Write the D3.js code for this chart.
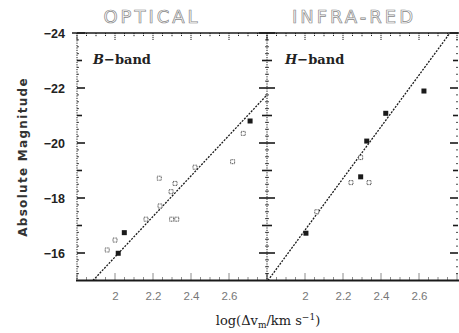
<!DOCTYPE html>
<html>
<head>
<meta charset="utf-8">
<script src="https://cdn.jsdelivr.net/npm/d3@7"></script>
<style>
  body { margin: 0; background: #fff; }
  svg { display: block; font-family: "DejaVu Sans", sans-serif; }
</style>
</head>
<body>
<svg id="chart" width="459" height="333"></svg>
<script>
'use strict';

// panel titles and band labels
let panelTitles = ['OPTICAL', 'INFRA-RED'];
let bandLetters = ['B', 'H'];

// tick labels
let xTickValues = [2, 2.2, 2.4, 2.6];
let yTickValues = [-24, -22, -20, -18, -16];

// B-band galaxies: log dv, absolute magnitude, filled?
let bandBX = [1.959, 2.0, 2.049, 2.017, 2.163, 2.233, 2.237, 2.298, 2.325, 2.295, 2.316, 2.421, 2.619, 2.675, 2.711];
let bandBY = [-16.11, -16.47, -16.74, -15.99, -17.23, -18.72, -17.71, -17.23, -17.23, -18.23, -18.53, -19.12, -19.32, -20.35, -20.8];
let bandBFilled = [0, 0, 1, 1, 0, 0, 0, 0, 0, 0, 0, 0, 0, 0, 1];

// H-band galaxies
let bandHX = [2.005, 2.062, 2.242, 2.337, 2.293, 2.293, 2.325, 2.425, 2.626];
let bandHY = [-16.72, -17.5, -18.56, -18.56, -18.77, -19.47, -20.07, -21.08, -21.89];
let bandHFilled = [1, 0, 0, 0, 1, 0, 1, 1, 1];

// fitted relations (end points)
let fitBX = [1.884, 2.8];
let fitBY = [-15, -21.75];
let fitHX = [1.805, 2.763];
let fitHY = [-15, -24];

let svg = d3.select('#chart');

let y = d3.scaleLinear().domain([-24, -15]).range([33, 280.5]);
let panels = [
  { x: d3.scaleLinear().domain([1.8, 2.8]).range([77, 267]), px: bandBX, py: bandBY, pf: bandBFilled, fx: fitBX, fy: fitBY, tx: 152 },
  { x: d3.scaleLinear().domain([1.8, 2.8]).range([267, 457]), px: bandHX, py: bandHY, pf: bandHFilled, fx: fitHX, fy: fitHY, tx: 354 },
];

let ink = '#1a1a1a';
let yTop = y(-24), yBottom = y(-15);

// frame
svg.append('line')
  .attr('x1', 72).attr('x2', 459).attr('y1', yTop).attr('y2', yTop)
  .style('stroke', ink).style('stroke-width', 1.6);
svg.append('line')
  .attr('x1', 76).attr('x2', 459).attr('y1', yBottom).attr('y2', yBottom)
  .style('stroke', ink).style('stroke-width', 2.2);
[77, 267].forEach(xx => {
  svg.append('line')
    .attr('x1', xx).attr('x2', xx).attr('y1', yTop).attr('y2', yBottom)
    .style('stroke', ink).style('stroke-width', 1)
    .style('stroke-dasharray', '1.2,1.2');
});

// vertical-axis tick marks
let yMinor = d3.range(-24, -15, 0.25);
let vTick = (xx, dirs, v) => {
  let isInt = Math.abs(v - Math.round(v)) < 1e-6;
  let even = isInt && Math.round(v) % 2 === 0;
  let len = even ? 8 : (isInt ? 5 : 2);
  dirs.forEach(d => {
    svg.append('line')
      .attr('x1', xx).attr('x2', xx + d * len)
      .attr('y1', y(v)).attr('y2', y(v))
      .style('stroke', ink).style('stroke-width', isInt ? 1.6 : 0.8);
  });
};
yMinor.forEach(v => {
  vTick(77, [1], v);
  vTick(267, [1, -1], v);
  vTick(458, [-1], v);
});

// horizontal-axis tick marks
panels.forEach(p => {
  d3.range(1.8, 2.8001, 0.05).forEach(v => {
    let k = Math.round(v * 20);
    let len = k % 4 === 0 ? 7 : (k % 2 === 0 ? 4 : 3);
    let xx = p.x(v);
    svg.append('line')
      .attr('x1', xx).attr('x2', xx).attr('y1', yBottom).attr('y2', yBottom - len)
      .style('stroke', ink).style('stroke-width', 1)
      .style('stroke-dasharray', '1,1');
    svg.append('line')
      .attr('x1', xx).attr('x2', xx).attr('y1', yTop).attr('y2', yTop + len)
      .style('stroke', ink).style('stroke-width', 1)
      .style('stroke-dasharray', '1.2,0.8');
  });
});

// y tick labels
let yAxis = svg.append('g')
  .attr('transform', 'translate(77,0)')
  .call(d3.axisLeft(y).tickValues(yTickValues).tickSize(0).tickPadding(12)
    .tickFormat(d => '\u2212' + Math.abs(d)));
yAxis.select('.domain').remove();
yAxis.selectAll('text')
  .style('font-family', '"Liberation Sans", sans-serif')
  .style('font-size', '12.5px')
  .style('font-weight', 'bold')
  .style('fill', '#222');

// x tick labels
panels.forEach(p => {
  let g = svg.append('g')
    .attr('transform', `translate(0,${yBottom})`)
    .call(d3.axisBottom(p.x).tickValues(xTickValues).tickSize(0).tickPadding(11)
      .tickFormat(d3.format('')));
  g.select('.domain').remove();
  g.selectAll('text')
    .style('font-family', '"Liberation Sans", sans-serif')
    .style('font-size', '11.5px')
    .style('fill', '#777');
});

// fit lines
panels.forEach(p => {
  let pts = p.fx.map((v, i) => [p.x(v), y(p.fy[i])]);
  svg.append('path')
    .attr('d', d3.line()(pts))
    .style('fill', 'none')
    .style('stroke', ink)
    .style('stroke-width', 1.3)
    .style('stroke-dasharray', '2,1.3');
});

// data points
panels.forEach(p => {
  svg.append('g').selectAll('rect')
    .data(p.px.map((v, i) => ({ x: v, y: p.py[i], f: p.pf[i] })))
    .enter()
    .append('rect')
    .attr('x', d => p.x(d.x) - (d.f ? 2.5 : 2))
    .attr('y', d => y(d.y) - (d.f ? 2.5 : 2))
    .attr('width', d => d.f ? 5 : 4)
    .attr('height', d => d.f ? 5 : 4)
    .style('fill', d => d.f ? ink : '#fff')
    .style('stroke', d => d.f ? 'none' : '#555')
    .style('stroke-width', 1)
    .style('stroke-dasharray', d => d.f ? 'none' : '1,0.6');
});

// band labels
panels.forEach((p, i) => {
  let t = svg.append('text')
    .attr('x', p.x(1.8) + (i === 0 ? 16 : 18))
    .attr('y', 64)
    .style('font-family', '"DejaVu Serif", serif')
    .style('font-size', '13px')
    .style('font-weight', 'bold')
    .style('fill', '#222');
  t.append('tspan').style('font-style', 'italic').text(bandLetters[i]);
  t.append('tspan').text('\u2212band');
});

// panel titles, outlined hand lettering
panels.forEach((p, i) => {
  svg.append('text')
    .attr('x', p.tx)
    .attr('y', 23)
    .style('text-anchor', 'middle')
    .style('font-family', '"DejaVu Sans", sans-serif')
    .style('font-size', '18px')
    .style('letter-spacing', '3px')
    .style('fill', 'none')
    .style('stroke', '#888')
    .style('stroke-width', 0.7)
    .text(panelTitles[i]);
});

// axis titles
svg.append('text')
  .attr('transform', 'translate(27,157) rotate(-90)')
  .style('text-anchor', 'middle')
  .style('font-family', '"DejaVu Sans", sans-serif')
  .style('font-size', '12px')
  .style('letter-spacing', '1.3px')
  .style('font-weight', 'bold')
  .style('fill', '#333')
  .text('Absolute Magnitude');

let xt = svg.append('text')
  .attr('x', 268)
  .attr('y', 325)
  .style('text-anchor', 'middle')
  .style('font-family', '"DejaVu Serif", serif')
  .style('font-size', '13px')
  .style('fill', '#222');
xt.append('tspan').text('log(\u0394v');
xt.append('tspan').attr('dy', 3).style('font-size', '9px').text('m');
xt.append('tspan').attr('dy', -3).text('/km  s');
xt.append('tspan').attr('dy', -5).style('font-size', '9px').text('\u22121');
xt.append('tspan').attr('dy', 5).text(')');
</script>
</body>
</html>
